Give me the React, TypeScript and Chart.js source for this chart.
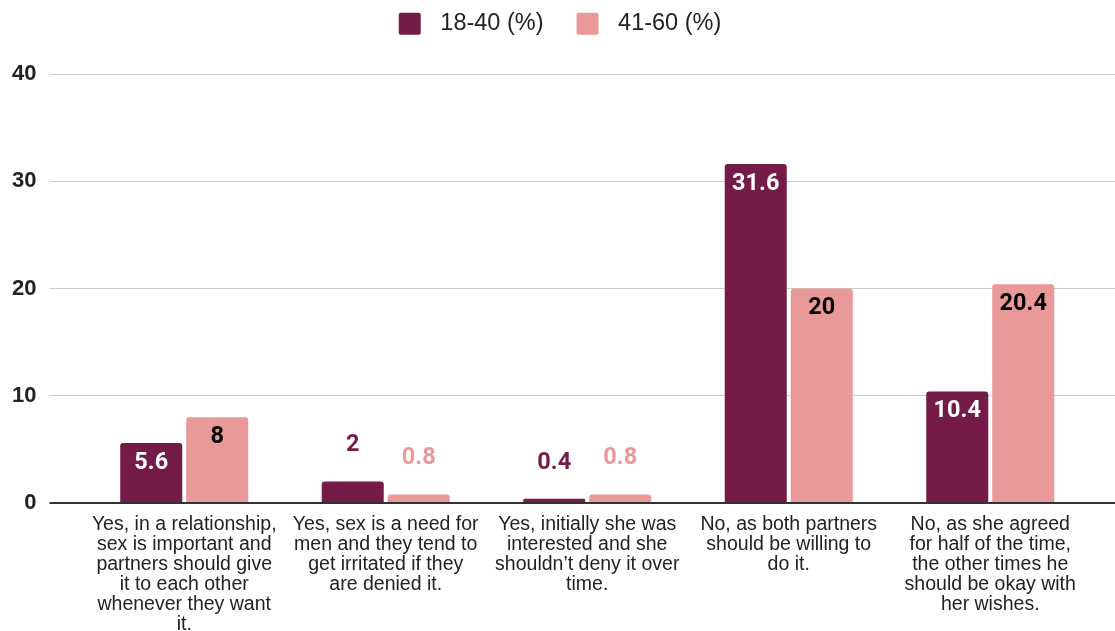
import React, { useEffect, useRef } from "react";
import { Chart, registerables } from "chart.js";

Chart.register(...registerables);

// Survey answers (x categories), split into lines as they are printed
const categories: string[][] = [
  ["Yes, in a relationship,", "sex is important and", "partners should give", "it to each other", "whenever they want", "it."],
  ["Yes, sex is a need for", "men and they tend to", "get irritated if they", "are denied it."],
  ["Yes, initially she was", "interested and she", "shouldn\u2019t deny it over", "time."],
  ["No, as both partners", "should be willing to", "do it."],
  ["No, as she agreed", "for half of the time,", "the other times he", "should be okay with", "her wishes."],
];

const seriesNames = ["18-40 (%)", "41-60 (%)"];
const youngerValues = [5.6, 2, 0.4, 31.6, 10.4];
const olderValues = [8, 0.8, 0.8, 20, 20.4];

const yTicks = { min: 0, max: 40, step: 10 };

const DARK = "#741b47";
const PINK = "#ea9999";
const SANS = "'Liberation Sans', Arial, sans-serif";

// Value labels: inside the top of tall bars, above short ones
const valueLabels = {
  id: "valueLabels",
  afterDatasetsDraw(chart: any) {
    const ctx = chart.ctx;
    ctx.save();
    ctx.font = "bold 23.5px Roboto";
    ctx.textAlign = "center";
    ctx.textBaseline = "middle";
    chart.data.datasets.forEach((ds: any, di: number) => {
      const meta = chart.getDatasetMeta(di);
      meta.data.forEach((bar: any, i: number) => {
        const v = ds.data[i];
        if (v >= 4) {
          ctx.fillStyle = di === 0 ? "#ffffff" : "#000000";
          ctx.fillText(String(v), bar.x, bar.y + 20);
        } else {
          ctx.fillStyle = ds.backgroundColor;
          ctx.fillText(String(v), bar.x, bar.y - 36);
        }
      });
    });
    ctx.restore();
  },
};

// Legend block: fixed height above the plot, items drawn near the top edge
const legendLayout = {
  id: "legendLayout",
  beforeInit(chart: any) {
    const legend = chart.legend;
    if (!legend) return;
    const fit = legend.fit;
    legend.fit = function () {
      fit.call(legend);
      legend.height = 74;
    };
    const draw = legend.draw;
    legend.draw = function () {
      const ctx = chart.ctx;
      ctx.save();
      ctx.translate(3, -21);
      draw.call(legend);
      ctx.restore();
    };
  },
};

export default function App() {
  const canvasRef = useRef<HTMLCanvasElement | null>(null);

  useEffect(() => {
    if (!canvasRef.current) return;
    const gridColor = (c: any) => (c.tick && c.tick.value === 0 ? "#333333" : "#cccccc");
    const gridWidth = (c: any) => (c.tick && c.tick.value === 0 ? 2 : 1);
    const baseLabels = Chart.defaults.plugins.legend.labels.generateLabels;
    const chart = new Chart(canvasRef.current, {
      type: "bar",
      data: {
        labels: categories,
        datasets: [
          {
            label: seriesNames[0],
            data: youngerValues,
            backgroundColor: DARK,
            borderRadius: 3,
            categoryPercentage: 0.655,
            barPercentage: 0.94,
          },
          {
            label: seriesNames[1],
            data: olderValues,
            backgroundColor: PINK,
            borderRadius: 3,
            categoryPercentage: 0.655,
            barPercentage: 0.94,
          },
        ],
      },
      options: {
        responsive: false,
        animation: false,
        layout: { padding: { left: -1, right: 0, top: 0, bottom: -16 } },
        plugins: {
          legend: {
            position: "top",
            labels: {
              boxWidth: 22,
              boxHeight: 22,
              useBorderRadius: true,
              borderRadius: 2,
              padding: 33,
              color: "#222222",
              font: { family: SANS, size: 23.5 },
              // a little extra room between swatch and text
              generateLabels: (c: any) =>
                baseLabels(c).map((item: any) => ({ ...item, text: "\u2004" + item.text })),
            },
          },
          tooltip: { enabled: false },
        },
        scales: {
          x: {
            grid: { display: false, drawTicks: false },
            border: { display: false },
            ticks: {
              color: "#222222",
              padding: 12,
              maxRotation: 0,
              autoSkip: false,
              font: { family: SANS, size: 19.5, lineHeight: 20 / 19.5 },
            },
          },
          y: {
            min: yTicks.min,
            max: yTicks.max,
            ticks: {
              stepSize: yTicks.step,
              color: "#222222",
              padding: 13,
              font: { family: SANS, size: 22, weight: "bold" },
            },
            grid: { color: gridColor, lineWidth: gridWidth, tickLength: 34 },
            border: { display: false },
          },
          yRight: {
            position: "right",
            min: yTicks.min,
            max: yTicks.max,
            ticks: { display: false, stepSize: yTicks.step },
            grid: { color: gridColor, lineWidth: gridWidth, tickLength: 24, drawOnChartArea: false },
            border: { display: false },
          },
        },
      },
      plugins: [valueLabels, legendLayout],
    });
    return () => chart.destroy();
  }, []);

  return (
    <div style={{ position: "absolute", left: 0, top: 0, width: 1115, height: 631, background: "#fff" }}>
      <canvas ref={canvasRef} width={1115} height={631} />
    </div>
  );
}
